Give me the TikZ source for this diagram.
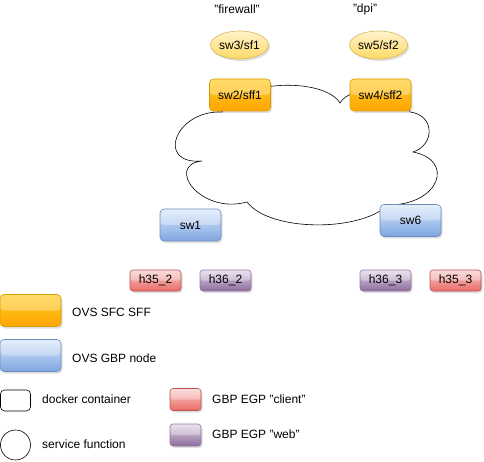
\documentclass[tikz,border=0pt]{standalone}
\usepackage{fontspec}
\setmainfont{Liberation Sans}
\usetikzlibrary{shapes.geometric,shadows}
\definecolor{sfftop}{HTML}{FFCD28}
\definecolor{sffbot}{HTML}{FFA500}
\definecolor{sffline}{HTML}{D79B00}
\definecolor{gbptop}{HTML}{DAE8FC}
\definecolor{gbpbot}{HTML}{7EA6E0}
\definecolor{gbpline}{HTML}{6C8EBF}
\definecolor{redtop}{HTML}{F8CECC}
\definecolor{redbot}{HTML}{EA6B66}
\definecolor{redline}{HTML}{B85450}
\definecolor{purtop}{HTML}{E1D5E7}
\definecolor{purbot}{HTML}{8C6C9C}
\definecolor{purline}{HTML}{9673A6}
\definecolor{sftop}{HTML}{FFF2CC}
\definecolor{sfbot}{HTML}{FFD966}
\definecolor{sfline}{HTML}{D6B656}
\begin{document}
\begin{tikzpicture}[x=1pt,y=-1pt,
  every node/.style={font=\fontsize{12}{14}\selectfont, inner sep=0pt},
  glass/.style={path picture={\fill[white,opacity=0.3] (path picture bounding box.north west) rectangle (path picture bounding box.east);}},
  shad/.style={drop shadow={shadow xshift=1.5pt,shadow yshift=-2pt,opacity=0.25}},
  bigbox/.style={draw, rounded corners=4pt, line width=0.6pt, minimum width=61pt, minimum height=32pt, shad, glass},
  smallbox/.style={draw, rounded corners=3pt, line width=0.6pt, minimum width=51pt, minimum height=21pt, shad, glass},
  legbox/.style={draw, rounded corners=3pt, line width=0.6pt, minimum width=31pt, minimum height=22pt, shad, glass},
  sff/.style={top color=sfftop, bottom color=sffbot, draw=sffline},
  gbp/.style={top color=gbptop, bottom color=gbpbot, draw=gbpline},
  client/.style={top color=redtop, bottom color=redbot, draw=redline},
  web/.style={top color=purtop, bottom color=purbot, draw=purline},
  sf/.style={ellipse, draw=sfline, top color=sftop, bottom color=sfbot, line width=0.6pt, minimum width=58pt, minimum height=28pt, shad},
  lbl/.style={anchor=west}
]
\useasboundingbox (0,0) rectangle (484,462);

% cloud
\draw[line width=0.6pt] (340,103)
  .. controls (325,78) and (240,78) .. (222,112)
  .. controls (175,110) and (155,165) .. (202,161)
  .. controls (165,165) and (200,215) .. (247,202)
  .. controls (270,232) and (360,232) .. (388,205)
  .. controls (440,205) and (455,160) .. (413,152)
  .. controls (435,145) and (435,115) .. (410,112)
  .. controls (400,85) and (350,85) .. cycle;

\node (fw) at (237,9) {"firewall"};
\node (dpi) at (365,9) {"dpi"};

\node[sf] (sw3) at (239.5,45) {sw3/sf1};
\node[sf] (sw5) at (378.5,45) {sw5/sf2};

\node[bigbox, sff] (sw2) at (240,95) {sw2/sff1};
\node[bigbox, sff] (sw4) at (380.5,95) {sw4/sff2};

\node[bigbox, gbp] (sw1) at (190.5,225) {sw1};
\node[bigbox, gbp] (sw6) at (410.5,220.5) {sw6};

\node[smallbox, client] (h352) at (155.5,280.5) {h35\_2};
\node[smallbox, web] (h362) at (225.5,280.5) {h36\_2};
\node[smallbox, web] (h363) at (385.5,280.5) {h36\_3};
\node[smallbox, client] (h353) at (455.5,280.5) {h35\_3};

% legend
\node[bigbox, sff] (lsff) at (30.5,310.5) {};
\node[lbl] (tsff) at (72,312) {OVS SFC SFF};
\node[bigbox, gbp] (lgbp) at (30.5,355.5) {};
\node[lbl] (tgbp) at (72,358) {OVS GBP node};
\node[draw, rounded corners=4pt, line width=0.6pt, minimum width=30pt, minimum height=21pt] (ldock) at (15.5,400.5) {};
\node[lbl] (tdock) at (42,399) {docker container};
\node[draw, circle, line width=0.6pt, minimum size=30pt] (lsf) at (15.5,445) {};
\node[lbl] (tsf) at (42,444) {service function};
\node[legbox, client] (lcl) at (185.5,399.5) {};
\node[lbl] (tcl) at (212,399) {GBP EGP "client"};
\node[legbox, web] (lweb) at (185.5,435) {};
\node[lbl] (tweb) at (212,434) {GBP EGP "web"};
\end{tikzpicture}
\end{document}
